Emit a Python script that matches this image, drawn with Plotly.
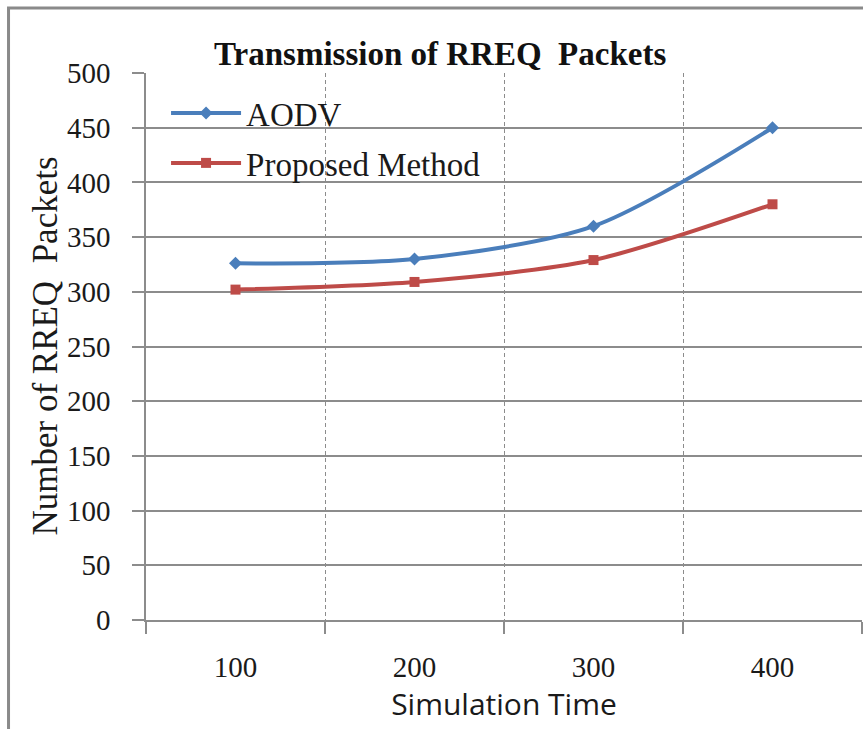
import plotly.graph_objects as go

# Simulation time categories and RREQ packet counts
sim_time = ["100", "200", "300", "400"]
aodv = [326, 330, 360, 450]
proposed = [302, 309, 329, 380]
y_ticks = [0, 50, 100, 150, 200, 250, 300, 350, 400, 450, 500]

SERIF = "Liberation Serif, Times New Roman, serif"
GRID = "#8c8c8c"

fig = go.Figure()
fig.add_trace(go.Scatter(
    x=sim_time, y=aodv, name="AODV", mode="lines+markers",
    line=dict(color="#4A7EBB", width=4, shape="spline", smoothing=0.8),
    marker=dict(symbol="diamond", size=10, color="#4A7EBB"),
    legendgroup="a",
))
fig.add_trace(go.Scatter(
    x=sim_time, y=proposed, name="Proposed Method", mode="lines+markers",
    line=dict(color="#BE4B48", width=4, shape="spline", smoothing=0.8),
    marker=dict(symbol="square", size=10, color="#BE4B48"),
    legendgroup="b",
))

fig.update_layout(
    width=863, height=729,
    margin=dict(l=146, r=1, t=73, b=109),
    paper_bgcolor="white", plot_bgcolor="white",
    font=dict(family=SERIF, color="#1a1a1a"),
    showlegend=True,
    legend=dict(
        x=0.028, y=0.978, xanchor="left", yanchor="top",
        bgcolor="rgba(0,0,0,0)", font=dict(size=33, family=SERIF),
        tracegroupgap=4, itemwidth=70,
    ),
    xaxis=dict(
        type="category", range=[-0.5, 3.5],
        tickson="boundaries", ticks="outside", ticklen=12, tickcolor=GRID,
        tickwidth=1.5,
        showgrid=True, gridcolor=GRID, griddash="4px,3px", gridwidth=1,
        showline=True, linecolor=GRID, linewidth=1.5,
        tickfont=dict(size=29, family=SERIF),
        ticklabelstandoff=20,
        title=dict(text="Simulation Time",
                   font=dict(size=30, family="Open Sans, Lato, sans-serif"),
                   standoff=11),
        zeroline=False,
    ),
    yaxis=dict(
        range=[0, 500], tickvals=y_ticks,
        ticks="outside", ticklen=12, tickcolor=GRID, tickwidth=1.5,
        showgrid=True, gridcolor=GRID, gridwidth=1.5,
        showline=True, linecolor=GRID, linewidth=1.5,
        tickfont=dict(size=29, family=SERIF),
        ticklabelstandoff=16,
        zeroline=False,
    ),
    annotations=[
        dict(
            text="<b>Transmission of RREQ  Packets</b>",
            xref="paper", yref="paper", x=0.41, y=1.034,
            xanchor="center", yanchor="middle", showarrow=False,
            font=dict(size=33, family=SERIF, color="#111111"),
        ),
        # y-axis title
        dict(
            text="Number of RREQ  Packets", textangle=-90,
            xref="paper", yref="paper", x=-0.141, y=0.5,
            xanchor="center", yanchor="middle", showarrow=False,
            font=dict(size=35, family=SERIF, color="#1a1a1a"),
        ),
    ],
    shapes=[dict(
        type="rect", xref="paper", yref="paper",
        x0=-0.192, x1=1.02, y0=-0.3, y1=1.119,
        line=dict(color="#8a8a8a", width=3), fillcolor="rgba(0,0,0,0)",
        layer="above",
    )],
)

fig.write_html("out.html")
